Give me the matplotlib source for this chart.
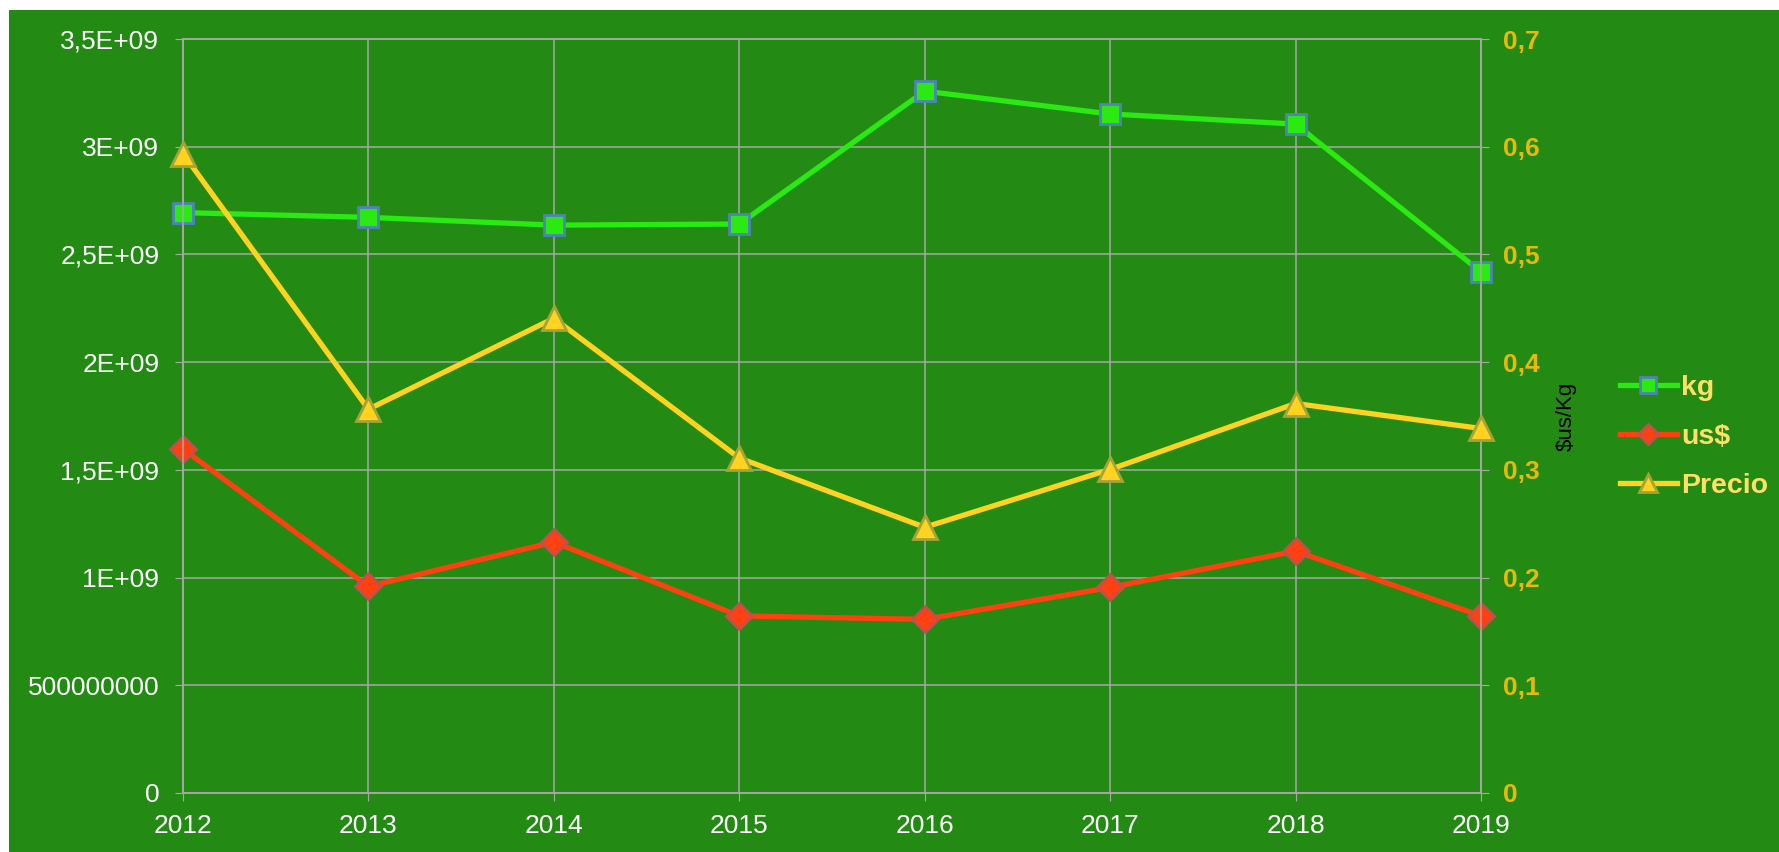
import matplotlib
matplotlib.use("Agg")
import matplotlib.pyplot as plt
from matplotlib.patches import Rectangle

plt.rcParams['font.family'] = ['Liberation Sans', 'DejaVu Sans']

# datos
years = [2012, 2013, 2014, 2015, 2016, 2017, 2018, 2019]
kg = [2.694e9, 2.672e9, 2.636e9, 2.641e9, 3.258e9, 3.152e9, 3.105e9, 2.419e9]
usd = [1.597e9, 0.959e9, 1.165e9, 0.822e9, 0.806e9, 0.954e9, 1.123e9, 0.822e9]
precio = [0.5935, 0.3563, 0.4407, 0.311, 0.2467, 0.3004, 0.3616, 0.3384]

left_ticks = [0, 5e8, 1e9, 1.5e9, 2e9, 2.5e9, 3e9, 3.5e9]
left_labels = ['0', '500000000', '1E+09', '1,5E+09', '2E+09', '2,5E+09', '3E+09', '3,5E+09']
right_ticks = [0, 0.1, 0.2, 0.3, 0.4, 0.5, 0.6, 0.7]
right_labels = ['0', '0,1', '0,2', '0,3', '0,4', '0,5', '0,6', '0,7']

bg = '#238B13'
grid_c = '#A8A8A8'

fig = plt.figure(figsize=(17.79, 8.52), dpi=100, facecolor='white')
# fondo verde con un borde blanco arriba y a la izquierda
fig.patches.append(Rectangle((9 / 1779, 0), 1, 1 - 10 / 852, transform=fig.transFigure,
                             facecolor=bg, edgecolor='none', zorder=-10))

ax = fig.add_axes([183 / 1779, 1 - 793 / 852, (1481 - 183) / 1779, (793 - 39) / 852])
ax.set_facecolor(bg)
ax2 = ax.twinx()

l1, = ax.plot(years, kg, color='#2AEA12', lw=3.8, marker='s', ms=15,
              mfc='#2AEA12', mec='#4F81BD', mew=2, label='kg', zorder=3, clip_on=False)
l2, = ax.plot(years, usd, color='#FF4010', lw=3.8, marker='D', ms=13,
              mfc='#FF4010', mec='#C0504D', mew=2, label='us$', zorder=3, clip_on=False)
l3, = ax2.plot(years, precio, color='#FFD320', lw=3.8, marker='^', ms=17,
               mfc='#FFD320', mec='#A6A33A', mew=2, label='Precio', zorder=3, clip_on=False)

ax.set_xlim(2012, 2019)
ax.set_ylim(0, 3.5e9)
ax2.set_ylim(0, 0.7)

ax.set_xticks(years)
ax.set_xticklabels([str(y) for y in years])
ax.set_yticks(left_ticks)
ax.set_yticklabels(left_labels)
ax2.set_yticks(right_ticks)
ax2.set_yticklabels(right_labels, fontweight='bold')

ax.grid(True, color=grid_c, lw=1.1, zorder=0)
ax.set_axisbelow(True)

ax.tick_params(axis='x', colors=grid_c, labelcolor='white', labelsize=19, length=6, pad=9)
ax.tick_params(axis='y', colors=grid_c, labelcolor='white', labelsize=19, length=6, pad=11)
ax2.tick_params(axis='y', colors=grid_c, labelcolor='#E8B90A', labelsize=19, length=6, pad=10)
for a in (ax, ax2):
    for s in a.spines.values():
        s.set_color(grid_c)
        s.set_linewidth(1.1)

ax2.set_ylabel('$us/Kg', fontsize=16, color='black')
ax2.yaxis.set_label_coords(1.058, 0.5)

leg = fig.legend(handles=[l1, l2, l3], loc='center left', bbox_to_anchor=(1594 / 1779, 1 - 437 / 852),
                 frameon=False, fontsize=20.5, handlelength=2.0, handletextpad=0.15,
                 labelspacing=0.8, markerscale=0.8)
for t in leg.get_texts():
    t.set_color('#FFE066')
    t.set_fontweight('bold')

fig.savefig('out.png', dpi=100, facecolor=fig.get_facecolor())
